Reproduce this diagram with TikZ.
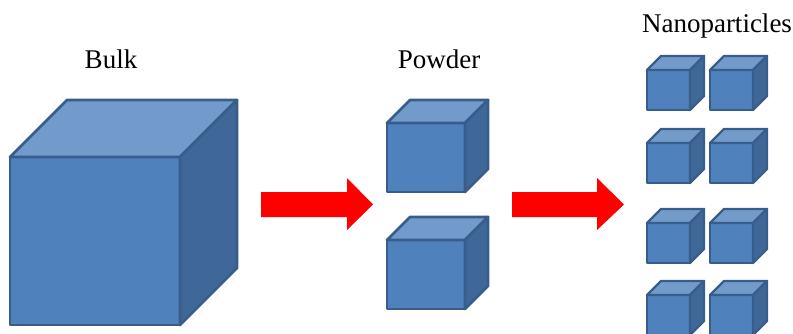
\documentclass[tikz,border=0pt]{standalone}
\usepackage{fontspec}
\setmainfont{Liberation Serif}
\usepackage{tikz}
\usetikzlibrary{positioning,calc}
\definecolor{cubefront}{RGB}{79,129,189}
\definecolor{cubetop}{RGB}{114,155,203}
\definecolor{cubeside}{RGB}{63,104,153}
\definecolor{cubeline}{RGB}{56,93,138}
\definecolor{arrowred}{RGB}{255,0,0}

% cube: name, x, y (front top-left), width, height, depth
\newcommand{\drawcube}[6]{%
  \coordinate (#1) at (#2,#3);
  \filldraw[face, fill=cubefront] (#1) rectangle ++(#4,#5);
  \filldraw[face, fill=cubetop] (#1) -- ++(#6,-#6) -- ++(#4,0) -- ++(-#6,#6) -- cycle;
  \filldraw[face, fill=cubeside] ($(#1)+(#4,0)$) -- ++(#6,-#6) -- ++(0,#5) -- ++(-#6,#6) -- cycle;
}

\begin{document}
\begin{tikzpicture}[
    x=1pt, y=-1pt,
    face/.style={draw=cubeline, line width=2.8pt, line join=round},
    title/.style={font=\fontsize{27}{31}\selectfont, anchor=base, inner sep=0pt},
    blockarrow/.style={fill=arrowred, draw=none}
]
\useasboundingbox (0,0) rectangle (793,333);

% Labels
\node[title] (bulklbl) at (111,68) {Bulk};
\node[title] (powderlbl) at (439,68) {Powder};
\node[title] (nanolbl) at (717,32) {Nanoparticles};

% Bulk
\drawcube{bulk}{10}{157}{170}{168}{57}

% Powder
\drawcube{powdera}{387}{123}{78}{69}{23}
\drawcube{powderb}{387}{240}{78}{69}{23}

% Nanoparticles
\begin{scope}[face/.append style={line width=2.4pt}]
\foreach \r/\y in {1/70, 2/143, 3/223, 4/295} {
  \drawcube{nanoa\r}{647}{\y}{43}{40}{14}
  \drawcube{nanob\r}{710}{\y}{43}{40}{14}
}
\end{scope}

% Arrows
\fill[blockarrow] (261,192) -- (347,192) -- (347,178) -- (373,204.5) -- (347,230) -- (347,217) -- (261,217) -- cycle;
\fill[blockarrow] (512,192) -- (597,192) -- (597,178) -- (624,204.5) -- (597,230) -- (597,217) -- (512,217) -- cycle;

\end{tikzpicture}
\end{document}
